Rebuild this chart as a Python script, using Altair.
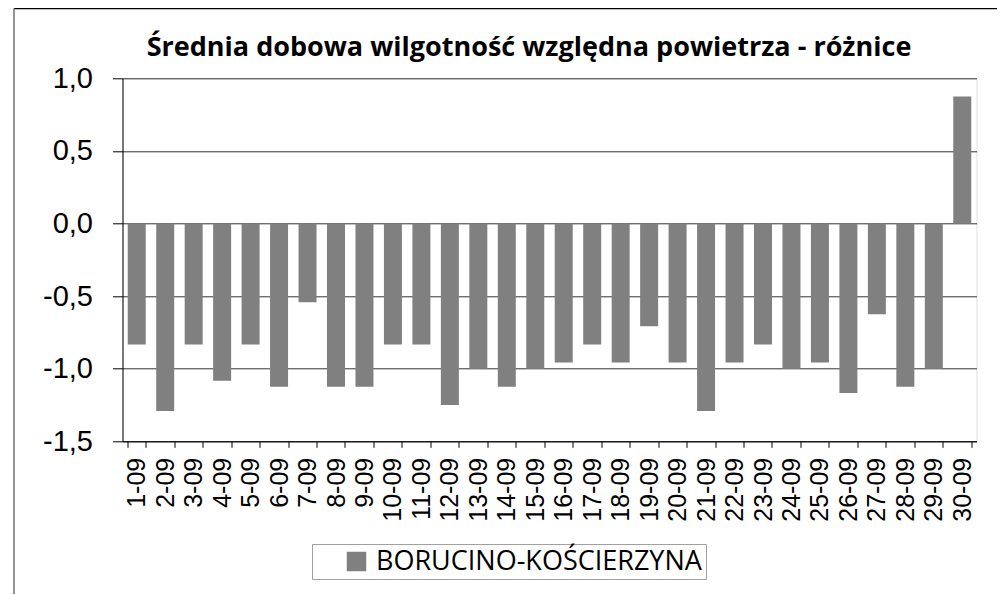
import altair as alt
import pandas as pd

days = [f"{d}-09" for d in range(1, 31)]
values = [-0.833, -1.292, -0.833, -1.083, -0.833, -1.125, -0.542, -1.125, -1.125, -0.833,
          -0.833, -1.25, -1.0, -1.125, -1.0, -0.958, -0.833, -0.958, -0.708, -0.958,
          -1.292, -0.958, -0.833, -1.0, -0.958, -1.167, -0.625, -1.125, -1.0, 0.875]
series = "BORUCINO-KOŚCIERZYNA"
title = "Średnia dobowa wilgotność względna powietrza - różnice"
y_ticks = [-1.5, -1.0, -0.5, 0.0, 0.5, 1.0]

df = pd.DataFrame({"day": days, "value": values, "series": [series] * len(days)})

W, H = 854, 363
PL, PT = 114.5, 70.3
CH = 586

bars = alt.Chart(df).mark_bar(color="#808080").encode(
    x=alt.X("day:N", sort=days, title=None,
            scale=alt.Scale(paddingInner=0.368, paddingOuter=0.184),
            axis=alt.Axis(labelAngle=270, labelAlign="right", labelBaseline="middle",
                          labelFont="Liberation Sans", labelFontSize=25, labelColor="#000",
                          labelPadding=10, tickSize=6, tickColor="#000", domainColor="#000",
                          tickBand="extent", grid=False)),
    y=alt.Y("value:Q", title=None,
            scale=alt.Scale(domain=[-1.5, 1.0], nice=False, zero=False),
            axis=alt.Axis(values=y_ticks,
                          labelExpr="replace(replace(format(datum.value, '.1f'), '.', ','), '\u2212', '-')",
                          labelFont="Liberation Sans", labelFontSize=29, labelColor="#000",
                          labelPadding=20, tickSize=10, tickColor="#000", domainColor="#000",
                          grid=True, gridColor="#333333", gridWidth=1)),
    color=alt.Color("series:N", scale=alt.Scale(range=["#808080"]),
                    legend=alt.Legend(title=None, orient="none",
                                      legendX=304 - PL, legendY=536 - PT,
                                      direction="horizontal", symbolType="square",
                                      symbolSize=380, symbolStrokeWidth=0,
                                      symbolOffset=27, labelOffset=6,
                                      labelFont="Open Sans", labelFontSize=27, labelColor="#000",
                                      labelLimit=600, padding=4,
                                      strokeColor="#a0a0a0", fillColor="#ffffff")),
)

one = pd.DataFrame({"t": [title]})
title_mark = alt.Chart(one).mark_text(font="Open Sans", fontWeight="bold", fontSize=27,
                                      align="center", baseline="alphabetic", color="#000").encode(
    text="t:N", x=alt.value(521 - PL), y=alt.value(48 - PT))

top_border = alt.Chart(one).mark_rule(color="#000", strokeWidth=1.5).encode(
    x=alt.value(6 - PL), x2=alt.value(989 - PL), y=alt.value(0.5 - PT))
left_border = alt.Chart(one).mark_rule(color="#707070", strokeWidth=1.5).encode(
    x=alt.value(6 - PL), y=alt.value(0.5 - PT), y2=alt.value(CH - PT))

chart = alt.layer(bars, title_mark, top_border, left_border).properties(
    width=W, height=H,
    autosize=alt.AutoSizeParams(type="none"),
    padding={"left": PL, "top": PT, "right": 989 - PL - W, "bottom": CH - PT - H},
).configure_view(stroke=None).configure(background="#ffffff")

chart.save("out.html", embed_options={"renderer": "svg", "actions": False})
